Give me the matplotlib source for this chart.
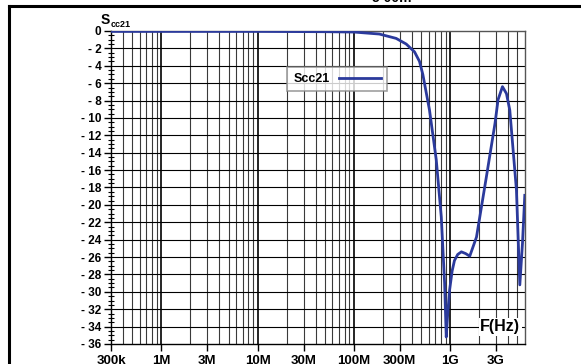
import numpy as np
import matplotlib.pyplot as plt
from matplotlib.lines import Line2D
from matplotlib.ticker import FixedLocator, MultipleLocator, NullFormatter

plt.rcParams['font.family'] = ['Liberation Sans', 'DejaVu Sans']
plt.rcParams['font.weight'] = 'bold'

# measured transmission Scc21 (frequency in Hz, level in dB)
freq = [300e3, 1e6, 10e6, 50e6, 100e6, 184e6, 275e6, 350e6, 427e6, 481e6,
        521e6, 611e6, 718e6, 810e6, 877e6, 912e6, 945e6, 988e6, 1.05e9,
        1.11e9, 1.2e9, 1.31e9, 1.45e9, 1.60e9, 1.88e9, 2.38e9, 2.93e9,
        3.15e9, 3.5e9, 3.85e9, 4.17e9, 4.89e9, 5.3e9, 5.65e9, 5.97e9]
scc21 = [-0.05, -0.05, -0.05, -0.08, -0.12, -0.35, -0.85, -1.5, -2.4, -3.5,
         -5.0, -9.1, -14.8, -21.4, -29.0, -35.2, -32.5, -29.8, -27.6,
         -26.4, -25.7, -25.4, -25.6, -25.9, -23.7, -16.8, -10.6,
         -7.9, -6.4, -7.2, -9.1, -18.3, -29.2, -24.4, -18.9]

xtick_vals = [300e3, 1e6, 3e6, 10e6, 30e6, 100e6, 300e6, 1e9, 3e9]
xtick_labels = ['300k', '1M', '3M', '10M', '30M', '100M', '300M', '1G', '3G']
ytick_vals = list(range(0, -37, -2))
ytick_labels = ['0'] + ['- %d' % abs(v) for v in ytick_vals[1:]]

fig = plt.figure(figsize=(5.81, 3.64), dpi=100)
ax = fig.add_axes([111 / 581, 20 / 364, 414 / 581, 313 / 364])

ax.set_xscale('log')
ax.set_xlim(300e3, 6e9)
ax.set_ylim(-36, 0)

# log grid: decades heavier than the in-between lines
grid_f = [m * 10.0 ** e for e in range(5, 10) for m in range(1, 10)]
grid_f = [f for f in grid_f if 300e3 < f < 6e9]
for f in grid_f:
    is_decade = abs(np.log10(f) - round(np.log10(f))) < 1e-6
    ax.axvline(f, color='black' if is_decade else '#3a3a3a',
               lw=1.2 if is_decade else 0.8, zorder=1)
for v in ytick_vals[1:-1]:
    ax.axhline(v, color='black', lw=0.8, zorder=1)

ax.plot(freq, scc21, color='#2b3a9c', lw=2, label='Scc21', zorder=3)

ax.xaxis.set_major_locator(FixedLocator(xtick_vals))
ax.xaxis.set_minor_locator(FixedLocator([]))
ax.xaxis.set_minor_formatter(NullFormatter())
ax.set_xticks(xtick_vals)
ax.set_xticklabels(xtick_labels)
ax.set_yticks(ytick_vals)
ax.set_yticklabels(ytick_labels)
ax.yaxis.set_minor_locator(MultipleLocator(0.5))
ax.tick_params(axis='both', which='major', direction='out', length=5,
               width=1, labelsize=8.5, pad=2)
ax.tick_params(axis='x', which='major', labelsize=9.5, pad=3)
ax.tick_params(axis='y', which='minor', direction='inout', length=4, width=0.8)
for lbl in ax.get_xticklabels() + ax.get_yticklabels():
    lbl.set_fontweight('bold')
for s in ax.spines.values():
    s.set_linewidth(1)
    s.set_color('#555555')
ax.spines['left'].set_color('black')
ax.spines['bottom'].set_color('black')

leg = ax.legend(loc='upper left', bbox_to_anchor=(0.425, 0.885),
                markerfirst=False, fancybox=False, handlelength=3.3,
                borderpad=0.5, handletextpad=0.8, borderaxespad=0,
                prop={'weight': 'bold', 'size': 9})
leg.get_frame().set_edgecolor('#888888')
leg.get_frame().set_linewidth(1.2)

ax.text(0.94, 0.055, 'F(Hz)', transform=ax.transAxes, ha='center',
        va='center', fontsize=11.5, fontweight='bold', zorder=4,
        bbox=dict(facecolor='white', edgecolor='none', pad=1))

# axis title above the y axis
fig.text(101 / 581, 1 - 24 / 364, 'S', fontsize=10, fontweight='bold')
fig.text(111 / 581, 1 - 27 / 364, 'cc21', fontsize=6.5, fontweight='bold')

# page frame and the clipped heading above it
fig.add_artist(Line2D([9 / 581, 1], [1 - 5.5 / 364] * 2, color='black', lw=2.2))
fig.add_artist(Line2D([9 / 581] * 2, [0, 1 - 5.5 / 364], color='black', lw=2.2))
fig.text(0.675, 1 + 2 / 364, '5 00m', fontsize=10, fontweight='bold',
         ha='center', va='center')

fig.savefig('out.png', dpi=100)
